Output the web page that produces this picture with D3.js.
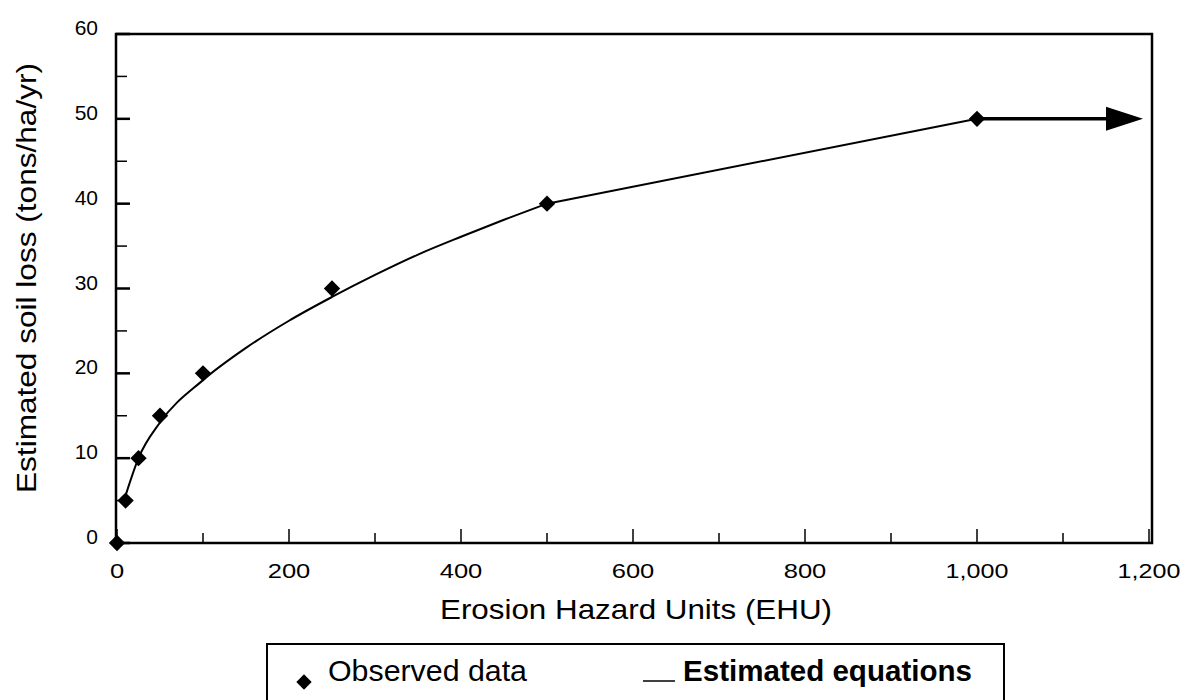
<!DOCTYPE html>
<html><head><meta charset="utf-8">
<script src="https://cdn.jsdelivr.net/npm/d3@7"></script>
<style>body{margin:0;background:#fff}svg{display:block;font-family:"Liberation Sans",Arial,sans-serif}</style>
</head><body>
<svg id="c" width="1188" height="700"></svg>
<script>
// observed data
const obsX = [0, 10, 25, 50, 100, 250, 500, 1000];
const obsY = [0, 5, 10, 15, 20, 30, 40, 50];
// estimated equation curve
const curveX = [10, 25, 50, 100, 150, 200, 250, 300, 350, 400, 450, 500];
const curveY = [5.6, 10, 14.2, 19.2, 23, 26.2, 29, 31.6, 34, 36.1, 38.1, 40];
// linear segment and arrow
const lineX = [500, 1000];
const lineY = [40, 50];
const arrowX = [1000, 1193];
const arrowY = [50, 50];
const xTicks = [0, 200, 400, 600, 800, 1000, 1200];
const xTickLabels = ["0", "200", "400", "600", "800", "1,000", "1,200"];
const yTicks = [0, 10, 20, 30, 40, 50, 60];

const svg = d3.select("#c");
const x = d3.scaleLinear().domain([0, 1200]).range([117, 1149]);
const y = d3.scaleLinear().domain([0, 60]).range([543, 34]);

// frame
svg.append("rect").attr("x", 116).attr("y", 34).attr("width", 1152 - 116).attr("height", 543 - 34)
  .attr("fill", "none").attr("stroke", "#000").attr("stroke-width", 2.5);

// x ticks inward
const xt = d3.range(0, 1201, 100);
svg.append("g").selectAll("line").data(xt).join("line")
  .attr("x1", d => x(d)).attr("x2", d => x(d))
  .attr("y1", 543).attr("y2", d => 543 - (d % 200 === 0 ? 14 : 10))
  .attr("stroke", "#000").attr("stroke-width", 1.5);
// y ticks inward
const yt = d3.range(0, 61, 5);
svg.append("g").selectAll("line").data(yt).join("line")
  .attr("y1", d => y(d)).attr("y2", d => y(d))
  .attr("x1", 116).attr("x2", d => 116 + (d % 10 === 0 ? 14 : 11))
  .attr("stroke", "#000").attr("stroke-width", d => d % 10 === 0 ? 2.5 : 1.5);

// tick labels
svg.append("g").selectAll("text").data(xTicks).join("text")
  .attr("x", d => x(d)).attr("y", 578).attr("text-anchor", "middle")
  .attr("font-size", 21)
  .attr("textLength", (d, i) => { const s = xTickLabels[i]; return s.replace(/,/g, "").length * 14.2 + (s.includes(",") ? 6 : 0); })
  .attr("lengthAdjust", "spacingAndGlyphs")
  .text((d, i) => xTickLabels[i]);
svg.append("g").selectAll("text").data(yTicks).join("text")
  .attr("x", 98).attr("y", d => y(d) + 1).attr("text-anchor", "end")
  .attr("font-size", 21).text(d => d);

// axis titles
svg.append("text").attr("x", 636).attr("y", 619).attr("text-anchor", "middle")
  .attr("font-size", 28).attr("textLength", 392).attr("lengthAdjust", "spacingAndGlyphs")
  .text("Erosion Hazard Units (EHU)");
svg.append("text").attr("transform", "translate(36,278) rotate(-90)").attr("text-anchor", "middle")
  .attr("font-size", 27).attr("textLength", 430).attr("lengthAdjust", "spacingAndGlyphs")
  .text("Estimated soil loss (tons/ha/yr)");

// curve
const line = d3.line().x(d => x(d[0])).y(d => y(d[1])).curve(d3.curveMonotoneX);
svg.append("path").datum(curveX.map((v, i) => [v, curveY[i]])).attr("d", line)
  .attr("fill", "none").attr("stroke", "#000").attr("stroke-width", 2);
svg.append("path").datum(lineX.map((v, i) => [v, lineY[i]])).attr("d", d3.line().x(d => x(d[0])).y(d => y(d[1])))
  .attr("fill", "none").attr("stroke", "#000").attr("stroke-width", 2);

// arrow
const ax0 = x(arrowX[0]), ax1 = x(arrowX[1]), ay = y(arrowY[0]);
svg.append("line").attr("x1", ax0).attr("x2", ax1 - 34).attr("y1", ay).attr("y2", ay)
  .attr("stroke", "#000").attr("stroke-width", 3.5);
svg.append("path").attr("d", `M${ax1 - 37},${ay - 12} L${ax1},${ay} L${ax1 - 37},${ay + 12} Z`).attr("fill", "#000");

// observed diamonds
const diamond = d3.symbol().type(d3.symbolDiamond2).size(170);
svg.append("g").selectAll("path").data(obsX.map((v, i) => [v, obsY[i]])).join("path")
  .attr("transform", d => `translate(${x(d[0])},${y(d[1])})`).attr("d", diamond).attr("fill", "#000");

// legend
svg.append("rect").attr("x", 267).attr("y", 644).attr("width", 1004 - 267).attr("height", 80)
  .attr("fill", "none").attr("stroke", "#000").attr("stroke-width", 2);
svg.append("path").attr("transform", "translate(304,682)").attr("d", d3.symbol().type(d3.symbolDiamond2).size(150)).attr("fill", "#000");
svg.append("text").attr("x", 328).attr("y", 681).attr("font-size", 29)
  .attr("textLength", 199).attr("lengthAdjust", "spacingAndGlyphs").text("Observed data");
svg.append("line").attr("x1", 643).attr("x2", 675).attr("y1", 681).attr("y2", 681).attr("stroke", "#000").attr("stroke-width", 1.5);
svg.append("text").attr("x", 683).attr("y", 681).attr("font-size", 29).attr("font-weight", "bold")
  .attr("textLength", 289).attr("lengthAdjust", "spacingAndGlyphs").text("Estimated equations");
</script>
</body></html>
